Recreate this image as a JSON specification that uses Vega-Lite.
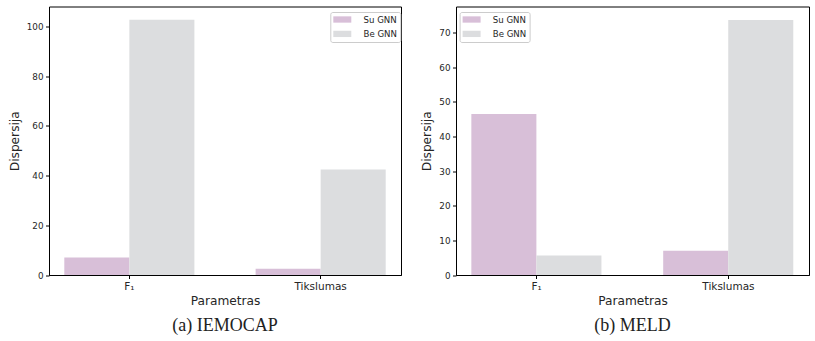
{
  "$schema": "https://vega.github.io/schema/vega-lite/v6.json",
  "padding": {"left": 7, "top": 5.5, "right": 0, "bottom": 0},
  "background": "white",
  "datasets": {
    "iemocap": [
      {"param": "F₁", "group": "Su GNN", "value": 7.0},
      {"param": "F₁", "group": "Be GNN", "value": 102.7},
      {"param": "Tikslumas", "group": "Su GNN", "value": 2.5},
      {"param": "Tikslumas", "group": "Be GNN", "value": 42.4}
    ],
    "meld": [
      {"param": "F₁", "group": "Su GNN", "value": 46.5},
      {"param": "F₁", "group": "Be GNN", "value": 5.6},
      {"param": "Tikslumas", "group": "Su GNN", "value": 7.0},
      {"param": "Tikslumas", "group": "Be GNN", "value": 73.7}
    ]
  },
  "config": {
    "font": "DejaVu Sans",
    "view": {"stroke": "black", "strokeWidth": 1},
    "axis": {
      "domainColor": "black",
      "tickColor": "black",
      "tickSize": 3.5,
      "labelPadding": 2.5,
      "labelColor": "#262626",
      "titleColor": "#262626",
      "titleFontWeight": "normal",
      "titleFontSize": 12.2,
      "grid": false
    },
    "legend": {
      "labelFontSize": 8.6,
      "labelColor": "#262626",
      "strokeColor": "#cccccc",
      "fillColor": "white",
      "padding": 3,
      "cornerRadius": 2,
      "rowPadding": 4.4,
      "symbolType": "M-2,-0.7H2V0.7H-2Z",
      "symbolSize": 81,
      "symbolOffset": 4.5,
      "symbolStrokeWidth": 0,
      "labelOffset": 16.7
    },
    "title": {"font": "Liberation Serif", "fontSize": 18, "fontWeight": "normal", "color": "#222222"}
  },
  "spacing": 18,
  "resolve": {"legend": {"color": "independent"}},
  "hconcat": [
    {
      "data": {"name": "iemocap"},
      "width": 352,
      "height": 268.5,
      "title": {"text": "(a) IEMOCAP", "orient": "bottom", "offset": 10},
      "mark": {"type": "bar"},
      "encoding": {
        "x": {
          "field": "param", "type": "nominal", "sort": ["F₁", "Tikslumas"],
          "scale": {"paddingInner": 0.32, "paddingOuter": 0.08},
          "axis": {"title": "Parametras", "labelAngle": 0, "labelFontSize": 10.5, "titlePadding": 3}
        },
        "xOffset": {"field": "group", "type": "nominal", "sort": ["Su GNN", "Be GNN"], "scale": {"paddingInner": 0, "paddingOuter": 0}},
        "y": {
          "field": "value", "type": "quantitative",
          "scale": {"domain": [0, 108], "nice": false},
          "axis": {"title": "Dispersija", "values": [0, 20, 40, 60, 80, 100], "labelFontSize": 8.8, "titlePadding": 5}
        },
        "color": {
          "field": "group", "type": "nominal",
          "scale": {"domain": ["Su GNN", "Be GNN"], "range": ["#d8bfd8", "#dcdddf"]},
          "legend": {"title": null, "orient": "none", "legendX": 281.3, "legendY": 5.5}
        }
      }
    },
    {
      "data": {"name": "meld"},
      "width": 353,
      "height": 268.5,
      "title": {"text": "(b) MELD", "orient": "bottom", "offset": 10},
      "mark": {"type": "bar"},
      "encoding": {
        "x": {
          "field": "param", "type": "nominal", "sort": ["F₁", "Tikslumas"],
          "scale": {"paddingInner": 0.32, "paddingOuter": 0.08},
          "axis": {"title": "Parametras", "labelAngle": 0, "labelFontSize": 10.5, "titlePadding": 3}
        },
        "xOffset": {"field": "group", "type": "nominal", "sort": ["Su GNN", "Be GNN"], "scale": {"paddingInner": 0, "paddingOuter": 0}},
        "y": {
          "field": "value", "type": "quantitative",
          "scale": {"domain": [0, 77.6], "nice": false},
          "axis": {"title": "Dispersija", "values": [0, 10, 20, 30, 40, 50, 60, 70], "labelFontSize": 8.8, "titlePadding": 5}
        },
        "color": {
          "field": "group", "type": "nominal",
          "scale": {"domain": ["Su GNN", "Be GNN"], "range": ["#d8bfd8", "#dcdddf"]},
          "legend": {"title": null, "orient": "none", "legendX": 3.6, "legendY": 5.5}
        }
      }
    }
  ]
}
